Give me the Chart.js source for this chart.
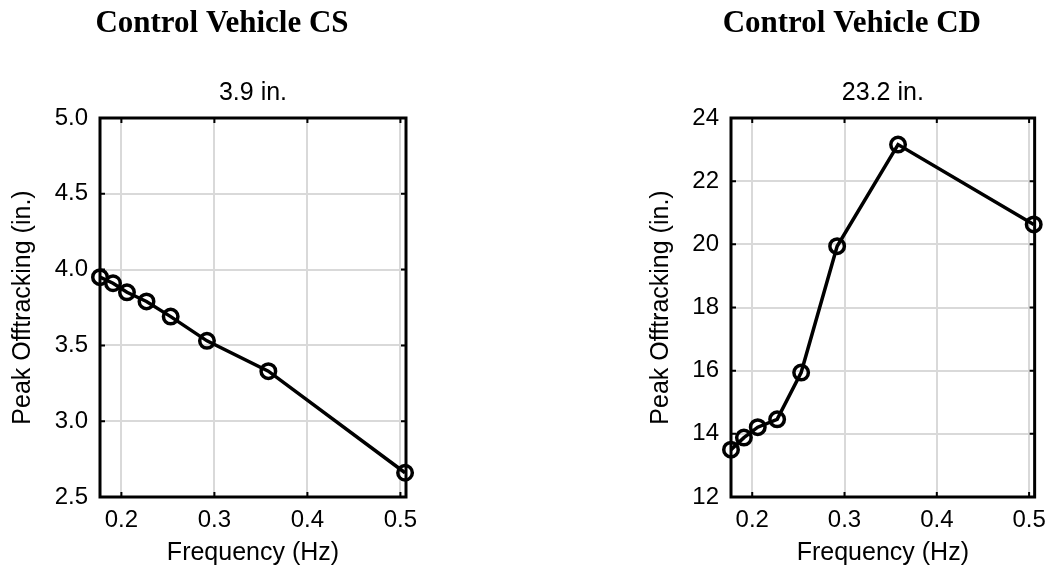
<!DOCTYPE html>
<html>
<head>
<meta charset="utf-8">
<script src="https://cdn.jsdelivr.net/npm/chart.js@4.4.1/dist/chart.umd.min.js"></script>
<style>
  html, body { margin: 0; padding: 0; background: #ffffff; }
  body { width: 1055px; height: 571px; position: relative; overflow: hidden; }
  canvas { position: absolute; top: 0; }
</style>
</head>
<body>
<canvas id="cs" width="520" height="571" style="left:0px"></canvas>
<canvas id="cd" width="417" height="571" style="left:638px"></canvas>
<script>
// ---- data ----
const frequency = [0.177, 0.191, 0.206, 0.227, 0.253, 0.292, 0.358, 0.505];
const offtrackCS = [3.95, 3.91, 3.85, 3.79, 3.69, 3.53, 3.33, 2.66];
const offtrackCD = [13.50, 13.88, 14.21, 14.46, 15.94, 19.94, 23.16, 20.63];
const xTicks = [0.2, 0.3, 0.4, 0.5];
const yTicksCS = [2.5, 3.0, 3.5, 4.0, 4.5, 5.0];
const yTicksCD = [12, 14, 16, 18, 20, 22, 24];
const titles = ["Control Vehicle CS", "Control Vehicle CD"];
const peakLabels = ["3.9 in.", "23.2 in."];
const xTitle = "Frequency (Hz)";
const yTitle = "Peak Offtracking (in.)";

const SANS = "'Liberation Sans', Arial, Helvetica, sans-serif";
const SERIF = "'Liberation Serif', 'Times New Roman', serif";

// frame + inward tick marks + panel titles
const framePlugin = {
  id: 'framePlugin',
  afterDraw(chart, args, opts) {
    const {ctx, chartArea: a, scales} = chart;
    ctx.save();
    ctx.strokeStyle = '#000';
    ctx.lineWidth = 2;
    const tl = 5;
    scales.x.ticks.forEach(t => {
      const px = scales.x.getPixelForValue(t.value);
      ctx.beginPath();
      ctx.moveTo(px, a.top); ctx.lineTo(px, a.top + tl);
      ctx.moveTo(px, a.bottom); ctx.lineTo(px, a.bottom - tl);
      ctx.stroke();
    });
    scales.y.ticks.forEach(t => {
      const py = scales.y.getPixelForValue(t.value);
      ctx.beginPath();
      ctx.moveTo(a.left, py); ctx.lineTo(a.left + tl, py);
      ctx.moveTo(a.right, py); ctx.lineTo(a.right - tl, py);
      ctx.stroke();
    });
    ctx.lineWidth = 3;
    ctx.strokeRect(a.left, a.top, a.right - a.left, a.bottom - a.top);
    const cx = (a.left + a.right) / 2;
    ctx.fillStyle = '#000';
    ctx.textAlign = 'center';
    ctx.textBaseline = 'alphabetic';
    ctx.font = "bold 31px " + SERIF;
    ctx.fillText(opts.title, cx - 31, 32);
    ctx.font = "25px " + SANS;
    ctx.fillText(opts.peak, cx, 100);
    ctx.restore();
  }
};

function makeChart(id, values, yTicks, yWidth, padRight, title, peak) {
  const yMin = yTicks[0], yMax = yTicks[yTicks.length - 1];
  return new Chart(document.getElementById(id), {
    type: 'line',
    data: {
      labels: frequency,
      datasets: [{
        data: frequency.map((f, i) => ({x: f, y: values[i]})),
        borderColor: '#000',
        borderWidth: 3.5,
        pointStyle: 'circle',
        pointRadius: 7.25,
        pointBorderWidth: 3.5,
        pointBorderColor: '#000',
        pointBackgroundColor: 'rgba(0,0,0,0)',
        tension: 0,
        clip: false
      }]
    },
    options: {
      responsive: false,
      animation: false,
      devicePixelRatio: 1,
      layout: { padding: { left: 0, right: padRight, top: 118, bottom: 0 } },
      plugins: {
        legend: { display: false },
        tooltip: { enabled: false },
        framePlugin: { title: title, peak: peak }
      },
      scales: {
        x: {
          type: 'linear',
          min: 0.177,
          max: 0.506,
          afterBuildTicks: s => { s.ticks = xTicks.map(v => ({value: v})); },
          afterFit: s => { s.height = 74; },
          ticks: {
            color: '#000',
            font: { family: SANS, size: 24 },
            padding: 9,
            maxRotation: 0,
            callback: v => v.toFixed(1)
          },
          grid: { color: '#d9d9d9', lineWidth: 2, drawTicks: false },
          border: { display: false },
          title: {
            display: true, text: xTitle, color: '#000',
            font: { family: SANS, size: 25 },
            padding: { top: 0, bottom: 3 }
          }
        },
        y: {
          type: 'linear',
          min: yMin,
          max: yMax,
          afterBuildTicks: s => { s.ticks = yTicks.map(v => ({value: v})); },
          afterFit: s => { s.width = yWidth; },
          ticks: {
            color: '#000',
            font: { family: SANS, size: 24 },
            padding: 12,
            callback: v => (yMax < 10 ? v.toFixed(1) : String(v))
          },
          grid: { color: '#d9d9d9', lineWidth: 2, drawTicks: false },
          border: { display: false },
          title: {
            display: true, text: yTitle, color: '#000',
            font: { family: SANS, size: 25 },
            padding: { top: 8, bottom: 0 }
          }
        }
      }
    },
    plugins: [framePlugin]
  });
}

makeChart('cs', offtrackCS, yTicksCS, 100, 114, titles[0], peakLabels[0]);
makeChart('cd', offtrackCD, yTicksCD, 93, 12, titles[1], peakLabels[1]);
</script>
</body>
</html>
